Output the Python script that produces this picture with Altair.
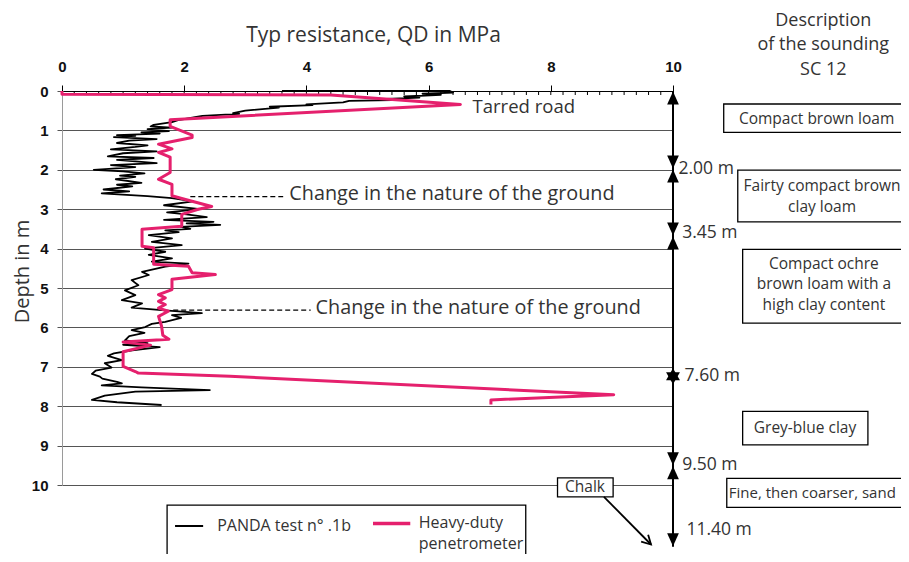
import altair as alt
import pandas as pd

# ---------------- data ----------------
# PANDA test n° .1b  (black)  : resistance (MPa) vs depth (m)
panda_q = [3.6, 6.35, 6.40, 5.90, 6.20, 5.60, 5.85, 5.20, 5.40, 4.70, 4.60, 4.00, 4.10, 3.40, 3.55,
           3.00, 2.80, 2.90, 2.30, 2.20, 1.90, 1.80, 1.50, 1.45, 1.80, 1.40, 1.75, 1.30, 1.60, 0.90,
           1.20, 0.85, 1.55, 1.10, 0.90, 1.40, 1.20, 0.80, 1.55, 1.00, 0.75, 1.50, 0.90, 1.55, 0.80,
           1.20, 0.52, 1.00, 1.35, 0.95, 1.20, 0.88, 1.30, 0.90, 1.15, 0.68, 1.10, 0.65, 1.40, 1.80,
           2.15, 1.67, 2.26, 1.72, 2.04, 2.37, 1.67, 2.48, 2.04, 2.59, 1.94, 2.10, 1.69, 1.91, 1.42,
           1.80, 1.47, 1.96, 1.36, 1.69, 1.42, 1.80, 1.47, 2.07, 1.69, 1.31, 1.42, 1.14, 1.25, 1.03,
           1.20, 0.98, 1.31, 1.14, 1.63, 2.29, 1.80, 1.95, 1.69, 1.47, 1.36, 1.14, 1.35, 1.10, 1.03,
           1.40, 1.00, 1.60, 1.15, 0.85, 0.75, 0.98, 0.70, 0.81, 0.55, 0.49, 0.62, 0.66, 0.90, 0.98,
           0.65, 1.30, 2.42, 1.20, 0.70, 0.49, 0.90, 1.63]
panda_d = [0.00, 0.00, 0.04, 0.07, 0.10, 0.14, 0.17, 0.21, 0.23, 0.25, 0.29, 0.34, 0.36, 0.40, 0.42,
           0.50, 0.56, 0.58, 0.63, 0.66, 0.74, 0.79, 0.86, 0.90, 0.93, 0.97, 1.02, 1.05, 1.08, 1.12,
           1.14, 1.17, 1.22, 1.26, 1.32, 1.38, 1.42, 1.48, 1.53, 1.58, 1.66, 1.70, 1.75, 1.83, 1.88,
           1.93, 2.00, 2.04, 2.09, 2.15, 2.18, 2.24, 2.33, 2.38, 2.42, 2.50, 2.55, 2.60, 2.67, 2.72,
           2.80, 2.90, 3.00, 3.08, 3.13, 3.20, 3.27, 3.32, 3.36, 3.40, 3.45, 3.50, 3.54, 3.58, 3.66,
           3.74, 3.83, 3.91, 4.00, 4.08, 4.16, 4.25, 4.33, 4.38, 4.46, 4.59, 4.67, 4.80, 4.93, 5.06,
           5.18, 5.31, 5.39, 5.50, 5.56, 5.64, 5.69, 5.76, 5.86, 5.91, 5.99, 6.07, 6.14, 6.22, 6.33,
           6.40, 6.44, 6.50, 6.58, 6.66, 6.72, 6.83, 6.91, 7.02, 7.10, 7.18, 7.25, 7.30, 7.38, 7.42,
           7.47, 7.52, 7.59, 7.63, 7.73, 7.84, 7.90, 7.97]

# Heavy-duty penetrometer (pink)
heavy_q = [0.00, 0.00, 4.40, 6.52, 1.77, 1.77, 2.13, 2.13, 1.58, 1.80, 1.58, 1.77, 1.77, 1.58, 1.80,
           1.80, 1.96, 2.45, 2.23, 1.96, 1.96, 1.31, 1.31, 1.50, 1.50, 2.07, 2.13, 2.51, 1.80, 1.80,
           1.58, 1.69, 1.58, 1.69, 1.58, 1.74, 1.58, 1.63, 1.65, 1.75, 1.00, 1.45, 1.00, 1.00, 1.20,
           1.25, 2.75, 9.03, 7.02, 7.02]
heavy_d = [0.00, 0.08, 0.10, 0.34, 0.73, 0.90, 1.12, 1.18, 1.35, 1.47, 1.56, 1.68, 2.07, 2.24, 2.37,
           2.66, 2.73, 2.93, 3.00, 3.13, 3.43, 3.51, 3.94, 3.98, 4.40, 4.45, 4.61, 4.66, 4.78, 5.04,
           5.17, 5.25, 5.34, 5.42, 5.51, 5.59, 5.72, 5.97, 6.20, 6.30, 6.37, 6.45, 6.62, 6.99, 7.12,
           7.16, 7.24, 7.71, 7.84, 7.96]

series_names = ["PANDA test n° .1b", "Heavy-duty", "penetrometer"]

x_ticks = [0, 2, 4, 6, 8, 10]
y_ticks = [0, 1, 2, 3, 4, 5, 6, 7, 8, 9, 10]
minor_ticks = [round(i * 0.2, 1) for i in range(51)]

# depth arrow on the right (q = 10)
arrow_q = [10]
arrow_top = [0]
arrow_bottom = [11.57]
tri_up_d = [0, 1.98, 3.68, 9.51]
tri_down_d = [1.98, 3.68, 9.51, 11.57]
star_d = [7.24]
depth_labels = ["2.00 m", "3.45 m", "7.60 m", "9.50 m", "11.40 m"]
depth_label_q = [10.09, 10.15, 10.19, 10.15, 10.22]
depth_label_d = [1.98, 3.60, 7.24, 9.49, 11.15]

# soil description boxes (text anchor = first line)
soil_labels = ["Compact brown loam", "Fairty compact brown\nclay loam",
               "Compact ochre\nbrown loam with a\nhigh clay content", "Grey-blue clay",
               "Fine, then coarser, sand", "Chalk"]
soil_q1 = [10.83, 11.06, 11.14, 11.14, 10.88, 8.11]
soil_q2 = [13.87, 13.87, 13.79, 13.19, 13.87, 9.02]
soil_d1 = [0.33, 2.01, 4.02, 8.13, 9.83, 9.82]
soil_d2 = [1.05, 3.32, 5.89, 8.98, 10.57, 10.30]
soil_tq = [12.35, 12.44, 12.47, 12.16, 12.28, 8.56]
soil_td = [0.70, 2.42, 4.39, 8.56, 10.20, 10.06]
soil_size = [15.5, 15.5, 15.5, 15.5, 15, 15.5]

header_lines = ["Description", "of the sounding", "SC 12"]
header_q = [12.46, 12.46, 12.46]
header_d = [-1.78, -1.155, -0.535]

chalk_arrow_q = [8.87]
chalk_arrow_d = [10.30]
chalk_arrow_q2 = [9.64]
chalk_arrow_d2 = [11.51]

note_labels = ["Tarred road", "Change in the nature of the ground", "Change in the nature of the ground"]
note_q = [6.72, 3.72, 4.15]
note_d = [0.41, 2.62, 5.50]
note_size = [18.5, 19.8, 19.8]
dash_q1 = [2.10, 1.82]
dash_q2 = [3.62, 4.07]
dash_d = [2.68, 5.56]

legend_box_q = [1.72]
legend_box_q2 = [7.59]
legend_box_d = [10.51]
legend_box_d2 = [11.95]
legend_line_q1 = [1.85, 5.09]
legend_line_q2 = [2.31, 5.70]
legend_line_d = [11.04, 10.98]
legend_text_q = [2.54, 5.84, 5.84]
legend_text_d = [11.04, 10.96, 11.51]

PINK = "#e5206d"
TXT = "#333333"
FONT = "Open Sans"
TICKFONT = "Liberation Sans"

# ---------------- scales / axes ----------------
xs = alt.Scale(domain=[0, 10], nice=False, zero=False)
ys = alt.Scale(domain=[0, 10], nice=False, zero=False, reverse=True)

x_axis = alt.Axis(orient="top", values=x_ticks, title="Typ resistance, QD in MPa",
                  labelFont=TICKFONT, labelFontSize=15, labelFontWeight="bold",
                  labelColor="#111111", labelPadding=11,
                  labelFlush=False, labelOverlap=False, tickSize=6, tickColor="black",
                  domainColor="black", domainWidth=1, grid=False,
                  titleFont=FONT, titleFontSize=21, titleFontWeight="normal", titleColor=TXT,
                  titleX=311, titleY=-56, titleAlign="center", titleBaseline="middle")
y_axis = alt.Axis(orient="left", values=y_ticks, title="Depth in m",
                  labelFont=TICKFONT, labelFontSize=15, labelFontWeight="bold",
                  labelColor="#111111", labelPadding=9,
                  labelFlush=False, labelOverlap=False, tickSize=5, tickColor="#555555",
                  domainColor="#9a9a9a", grid=True, gridColor="#555555", gridWidth=1,
                  titleFont=FONT, titleFontSize=20, titleFontWeight="normal", titleColor=TXT,
                  titleAngle=270, titleX=-40, titleY=180, titleAlign="center",
                  titleBaseline="middle")


def X():
    return alt.X("q:Q", scale=xs, axis=x_axis)


def Y():
    return alt.Y("d:Q", scale=ys, axis=y_axis)


# ---------------- layers ----------------
df_panda = pd.DataFrame({"q": panda_q, "d": panda_d, "i": range(len(panda_q))})
df_heavy = pd.DataFrame({"q": heavy_q, "d": heavy_d, "i": range(len(heavy_q))})

panda = alt.Chart(df_panda).mark_line(color="black", strokeWidth=1.8, strokeJoin="round").encode(
    x=X(), y=Y(), order="i:Q")
heavy = alt.Chart(df_heavy).mark_line(color=PINK, strokeWidth=3, strokeJoin="round").encode(
    x=X(), y=Y(), order="i:Q")

minor = alt.Chart(pd.DataFrame({"q": minor_ticks})).mark_rule(color="black", strokeWidth=1).encode(
    x=X(), y=alt.value(0), y2=alt.value(4))

dashes = alt.Chart(pd.DataFrame({"q": dash_q1, "q2": dash_q2, "d": dash_d})).mark_rule(
    color="black", strokeWidth=1.3, strokeDash=[5, 3]).encode(x=X(), x2="q2:Q", y=Y())

notes = alt.Chart(pd.DataFrame({"q": note_q, "d": note_d, "label": note_labels, "s": note_size})).mark_text(
    align="left", baseline="middle", font=FONT, color=TXT).encode(
    x=X(), y=Y(), text="label:N", size=alt.Size("s:Q", scale=None, legend=None))

vline = alt.Chart(pd.DataFrame({"q": arrow_q, "d": arrow_top, "d2": arrow_bottom})).mark_rule(
    color="black", strokeWidth=2).encode(x=X(), y=Y(), y2="d2:Q")

DOWN = "M-0.9,-1L0.9,-1L0,1Z"
UP = "M-0.9,1L0.9,1L0,-1Z"
STAR_UP = "M0,-1L0.87,0.5L-0.87,0.5Z"
STAR_DOWN = "M0,1L0.87,-0.5L-0.87,-0.5Z"

tri_up = alt.Chart(pd.DataFrame({"q": [10] * len(tri_up_d), "d": tri_up_d})).mark_point(
    shape=UP, filled=True, color="black", size=169, opacity=1, yOffset=7).encode(x=X(), y=Y())
tri_down = alt.Chart(pd.DataFrame({"q": [10] * len(tri_down_d), "d": tri_down_d})).mark_point(
    shape=DOWN, filled=True, color="black", size=169, opacity=1, yOffset=-7).encode(x=X(), y=Y())
star1 = alt.Chart(pd.DataFrame({"q": [10], "d": star_d})).mark_point(
    shape=STAR_UP, filled=True, color="black", size=256, opacity=1).encode(x=X(), y=Y())
star2 = alt.Chart(pd.DataFrame({"q": [10], "d": star_d})).mark_point(
    shape=STAR_DOWN, filled=True, color="black", size=256, opacity=1).encode(x=X(), y=Y())

dlabels = alt.Chart(pd.DataFrame({"q": depth_label_q, "d": depth_label_d, "label": depth_labels})).mark_text(
    align="left", baseline="middle", font=FONT, fontSize=17.5, color=TXT).encode(
    x=X(), y=Y(), text="label:N")

boxes = alt.Chart(pd.DataFrame({"q": soil_q1, "q2": soil_q2, "d": soil_d1, "d2": soil_d2})).mark_rect(
    fill="white", stroke="black", strokeWidth=1.3).encode(x=X(), x2="q2:Q", y=Y(), y2="d2:Q")
box_text = alt.Chart(pd.DataFrame({"q": soil_tq, "d": soil_td, "label": soil_labels,
                                   "s": soil_size})).mark_text(
    align="center", baseline="middle", font=FONT, color=TXT, lineBreak="\n",
    lineHeight=20.5).encode(x=X(), y=Y(), text="label:N",
                            size=alt.Size("s:Q", scale=None, legend=None))

header = alt.Chart(pd.DataFrame({"q": header_q, "d": header_d, "label": header_lines})).mark_text(
    align="center", baseline="middle", font=FONT, fontSize=18, color=TXT).encode(
    x=X(), y=Y(), text="label:N")

chalk_line = alt.Chart(pd.DataFrame({"q": chalk_arrow_q, "d": chalk_arrow_d, "q2": chalk_arrow_q2,
                                     "d2": chalk_arrow_d2})).mark_rule(color="black", strokeWidth=1.8).encode(
    x=X(), y=Y(), x2="q2:Q", y2="d2:Q")
chalk_head = alt.Chart(pd.DataFrame({"q": chalk_arrow_q2, "d": chalk_arrow_d2})).mark_point(
    shape="M-0.55,-1L0,0L0.55,-1", filled=False, color="black", strokeWidth=1.8, size=324,
    opacity=1, angle=315).encode(x=X(), y=Y())

leg_box = alt.Chart(pd.DataFrame({"q": legend_box_q, "q2": legend_box_q2, "d": legend_box_d,
                                  "d2": legend_box_d2})).mark_rect(
    fill="white", stroke="black", strokeWidth=1.3).encode(x=X(), x2="q2:Q", y=Y(), y2="d2:Q")
leg_lines = alt.Chart(pd.DataFrame({"q": legend_line_q1, "q2": legend_line_q2, "d": legend_line_d,
                                    "c": ["black", PINK], "w": [2, 3.5]})).mark_rule().encode(
    x=X(), x2="q2:Q", y=Y(), color=alt.Color("c:N", scale=None, legend=None),
    strokeWidth=alt.StrokeWidth("w:Q", scale=None, legend=None))
leg_text = alt.Chart(pd.DataFrame({"q": legend_text_q, "d": legend_text_d, "label": series_names})).mark_text(
    align="left", baseline="middle", font=FONT, fontSize=16, color=TXT).encode(
    x=X(), y=Y(), text="label:N")

chart = alt.layer(
    minor, panda, heavy, dashes, notes, vline, tri_up, tri_down, star1, star2, dlabels,
    boxes, box_text, header, chalk_line, chalk_head, leg_box, leg_lines, leg_text
).properties(
    width=611, height=394,
    autosize=alt.AutoSizeParams(type="none"),
    padding={"left": 54, "top": 83, "right": 228, "bottom": 69},
).configure_view(strokeWidth=0)

chart.save("out.html", embed_options={"renderer": "svg", "actions": False})
